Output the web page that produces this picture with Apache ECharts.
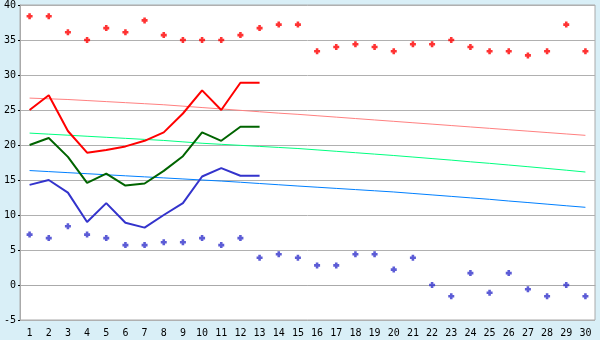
<!DOCTYPE html>
<html>
<head>
<meta charset="utf-8">
<script src="https://cdn.jsdelivr.net/npm/echarts@6/dist/echarts.min.js"></script>
<style>
  html, body { margin: 0; padding: 0; background: #d9eff7; }
  #chart { width: 600px; height: 340px; }
</style>
</head>
<body>
<div id="chart"></div>
<script>
// days of the month
var days = [];
for (var d = 1; d <= 30; d++) days.push(String(d));

// daily highs/lows (dots)
var highDots = [38.4, 38.4, 36.1, 35.0, 36.7, 36.1, 37.8, 35.7, 35.0, 35.0,
                35.0, 35.7, 36.7, 37.2, 37.2, 33.4, 34.0, 34.4, 34.0, 33.4,
                34.4, 34.4, 35.0, 34.0, 33.4, 33.4, 32.8, 33.4, 37.2, 33.4];
var lowDots = [7.2, 6.7, 8.4, 7.2, 6.7, 5.7, 5.7, 6.1, 6.1, 6.7,
               5.7, 6.7, 3.9, 4.4, 3.9, 2.8, 2.8, 4.4, 4.4, 2.2,
               3.9, 0.0, -1.6, 1.7, -1.1, 1.7, -0.6, -1.6, 0.0, -1.6];

// observed lines (first 13 days)
var maxLine = [25.0, 27.1, 22.0, 18.9, 19.3, 19.8, 20.6, 21.8, 24.5, 27.8, 25.0, 28.9, 28.9];
var meanLine = [20.0, 21.0, 18.3, 14.6, 15.9, 14.2, 14.5, 16.3, 18.4, 21.8, 20.6, 22.6, 22.6];
var minLine = [14.3, 15.0, 13.2, 9.0, 11.7, 8.9, 8.2, 10.0, 11.7, 15.5, 16.7, 15.6, 15.6];

// normals (thin lines)
var maxNormal = [26.7, 26.6, 26.5, 26.35, 26.2, 26.05, 25.9, 25.75, 25.55, 25.35,
                 25.15, 24.95, 24.75, 24.55, 24.38, 24.18, 23.98, 23.78, 23.58, 23.38,
                 23.18, 22.98, 22.78, 22.58, 22.38, 22.18, 21.98, 21.78, 21.58, 21.38];
var meanNormal = [21.7, 21.55, 21.4, 21.25, 21.1, 20.95, 20.8, 20.65, 20.45, 20.25,
                  20.1, 19.95, 19.8, 19.65, 19.5, 19.3, 19.1, 18.9, 18.7, 18.5,
                  18.28, 18.06, 17.84, 17.6, 17.38, 17.14, 16.9, 16.65, 16.4, 16.14];
var minNormal = [16.35, 16.2, 16.05, 15.9, 15.75, 15.6, 15.45, 15.3, 15.15, 15.0,
                 14.85, 14.68, 14.5, 14.32, 14.14, 13.97, 13.8, 13.63, 13.46, 13.29,
                 13.08, 12.87, 12.66, 12.45, 12.24, 12.0, 11.78, 11.55, 11.32, 11.1];

// small bold plus marker
var plus = 'path://M2,0h3v2h2v3h-2v2h-3v-2h-2v-3h2z';

function thickLine(data, color) {
  return {
    type: 'line', data: data, symbol: 'none', z: 4,
    lineStyle: { color: color, width: 2 }
  };
}
function thinLine(data, color) {
  return {
    type: 'line', data: data, symbol: 'none', z: 3,
    lineStyle: { color: color, width: 1 }
  };
}
function dots(data, color) {
  return {
    type: 'scatter', data: data, symbol: plus, symbolSize: 6, z: 5,
    itemStyle: { color: color }
  };
}

var chart = echarts.init(document.getElementById('chart'));
chart.setOption({
  backgroundColor: '#d9eff7',
  animation: false,
  textStyle: { fontFamily: 'DejaVu Sans Mono' },
  grid: {
    left: 20, right: 5, top: 5, bottom: 20,
    show: true, backgroundColor: '#ffffff', borderColor: '#aaaaaa', borderWidth: 1
  },
  xAxis: {
    type: 'category',
    data: days,
    boundaryGap: true,
    axisLine: { lineStyle: { color: '#aaaaaa' } },
    axisTick: { alignWithLabel: true, length: 4, lineStyle: { color: '#000000' } },
    axisLabel: { color: '#000000', fontSize: 10, margin: 8, interval: 0, fontFamily: 'DejaVu Sans Mono' },
    splitLine: { show: false }
  },
  yAxis: {
    type: 'value',
    min: -5, max: 40, interval: 5,
    axisLine: { show: true, lineStyle: { color: '#aaaaaa' } },
    axisTick: { show: true, length: 2, lineStyle: { color: '#000000' } },
    axisLabel: { color: '#000000', fontSize: 10, margin: 4, fontFamily: 'DejaVu Sans Mono' },
    splitLine: { lineStyle: { color: '#b0b0b0', width: 1 } }
  },
  series: [
    thinLine(maxNormal, '#ff8080'),
    thinLine(meanNormal, '#00ff80'),
    thinLine(minNormal, '#0080ff'),
    thickLine(maxLine, '#ff0000'),
    thickLine(meanLine, '#006400'),
    thickLine(minLine, '#3333cc'),
    dots(highDots, '#ff0000'),
    dots(lowDots, '#3333cc')
  ]
});
</script>
</body>
</html>
